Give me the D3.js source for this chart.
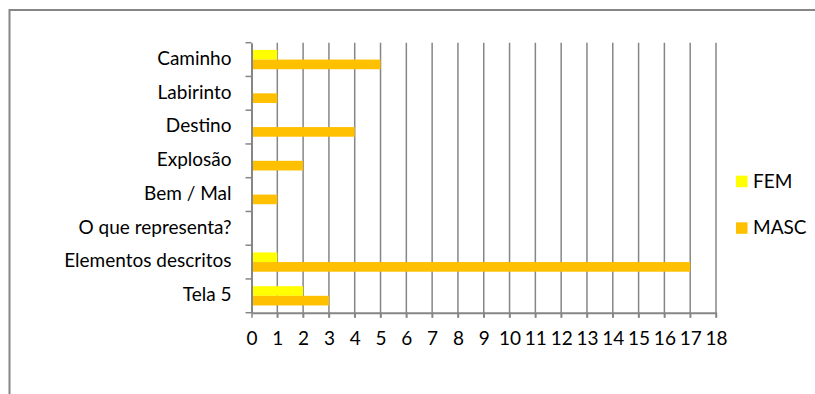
<!DOCTYPE html>
<html>
<head>
<meta charset="utf-8">
<script src="https://cdn.jsdelivr.net/npm/d3@7"></script>
<style>
  body { margin: 0; background: #fff; }
  svg text { font-family: Lato, "Open Sans", sans-serif; fill: #000; }
</style>
</head>
<body>
<svg id="chart" width="815" height="394"></svg>
<script>
// categories, top to bottom
let categories = ['Caminho', 'Labirinto', 'Destino', 'Explosão', 'Bem / Mal',
                  'O que representa?', 'Elementos descritos', 'Tela 5'];
let fem  = [1, 0, 0, 0, 0, 0, 1, 2];
let masc = [5, 1, 4, 2, 1, 0, 17, 3];
let series = ['FEM', 'MASC'];
let colors = ['#ffff00', '#ffc000'];
let xTicks = d3.range(0, 19);

let svg = d3.select('#chart');
let fontSize = 19;

// outer frame (open to the right and bottom)
svg.append('rect')
    .attr('x', 9.5).attr('y', 10)
    .attr('width', 840).attr('height', 420)
    .attr('fill', 'none')
    .attr('stroke', '#868686')
    .attr('stroke-width', 2);

let plot = { left: 251.5, top: 42.7, right: 716, bottom: 312.7 };

let x = d3.scaleLinear().domain([0, 18]).range([plot.left, plot.right]);
let y = d3.scaleBand().domain(categories).range([plot.top, plot.bottom]);
let barH = y.bandwidth() / 3.5;   // gap width 150%
let y1 = d3.scaleBand().domain(series)
    .range([y.bandwidth() / 2 - barH, y.bandwidth() / 2 + barH]);

// grid
svg.append('g').selectAll('line.grid')
    .data(xTicks.slice(1))
    .enter()
    .append('line')
    .attr('class', 'grid')
    .attr('x1', (d) => x(d)).attr('x2', (d) => x(d))
    .attr('y1', plot.top).attr('y2', plot.bottom + 5)
    .attr('stroke', '#868686')
    .attr('stroke-width', 1.5);

// bars
let rows = categories.map((c, i) => ({ cat: c, values: [fem[i], masc[i]] }));
svg.append('g').selectAll('g.row')
    .data(rows)
    .enter()
    .append('g')
    .attr('transform', (d) => 'translate(0,' + y(d.cat) + ')')
    .selectAll('rect')
    .data((d) => d.values.map((v, j) => ({ key: series[j], v: v, c: colors[j] })))
    .enter()
    .append('rect')
    .attr('x', x(0) + 1)
    .attr('y', (d) => y1(d.key))
    .attr('width', (d) => Math.max(0, x(d.v) - x(0) - 1))
    .attr('height', y1.bandwidth())
    .attr('fill', (d) => d.c);

// x axis
let xAxis = svg.append('g')
    .attr('transform', 'translate(0,' + plot.bottom + ')')
    .call(d3.axisBottom(x).tickValues(xTicks).tickSize(5).tickPadding(14).tickSizeOuter(0));
xAxis.select('.domain').attr('stroke', '#868686').attr('stroke-width', 2);
xAxis.selectAll('.tick line').attr('stroke', '#868686').attr('stroke-width', 1.5);
xAxis.selectAll('.tick text').attr('font-size', fontSize).attr('font-family', 'Lato');

// y axis
let yAxis = svg.append('g')
    .attr('transform', 'translate(' + plot.left + ',0)')
    .call(d3.axisLeft(y).tickSize(0).tickPadding(20));
yAxis.select('.domain').attr('stroke', '#868686').attr('stroke-width', 2);
yAxis.selectAll('.tick text').attr('font-size', fontSize).attr('font-family', 'Lato')
    .attr('dy', '0.28em');
yAxis.selectAll('line.sep')
    .data(d3.range(categories.length + 1))
    .enter()
    .append('line')
    .attr('class', 'sep')
    .attr('x1', -6).attr('x2', 0)
    .attr('y1', (i) => plot.top + i * y.step())
    .attr('y2', (i) => plot.top + i * y.step())
    .attr('stroke', '#868686')
    .attr('stroke-width', 1.5);

// legend
let legend = svg.append('g').selectAll('g.legend')
    .data(series)
    .enter()
    .append('g')
    .attr('class', 'legend')
    .attr('transform', (d, i) => 'translate(736,' + (175.7 + i * 46.6) + ')');
legend.append('rect')
    .attr('width', 11.5).attr('height', 11.5)
    .attr('fill', (d, i) => colors[i]);
legend.append('text')
    .attr('x', 17).attr('y', 11.8)
    .attr('font-size', fontSize)
    .text((d) => d);
</script>
</body>
</html>
